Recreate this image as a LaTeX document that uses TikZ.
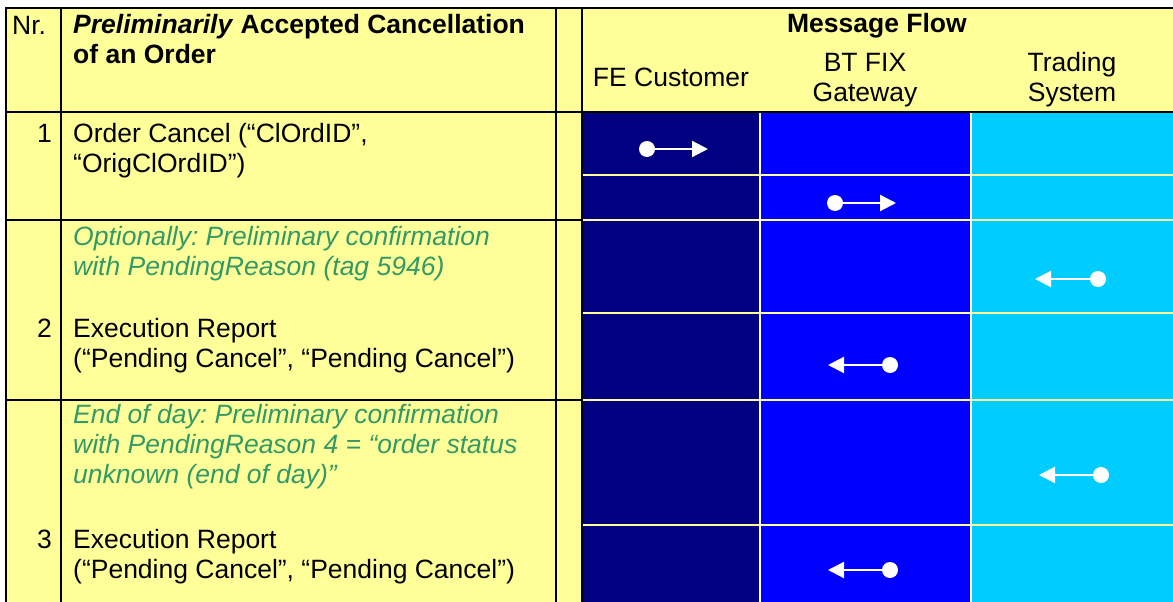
\documentclass[tikz,border=0pt]{standalone}
\usepackage{fontspec}
\setmainfont{Liberation Sans}
\usetikzlibrary{arrows.meta}
\frenchspacing

\definecolor{sheet}{HTML}{FFFF99}
\definecolor{custblue}{HTML}{000080}
\definecolor{gateblue}{HTML}{0000FF}
\definecolor{tradeblue}{HTML}{00CCFF}
\definecolor{notegreen}{HTML}{339966}

\begin{document}
\begin{tikzpicture}
    [ x=1pt, y=-1pt
    , every node/.style={inner sep=0pt, font=\fontsize{26.5}{30}\selectfont}
    , txt/.style={anchor=base west, align=left}
    , nr/.style={anchor=base east}
    , head/.style={anchor=base, align=center}
    , note/.style={txt, text=notegreen, font=\fontsize{26.5}{30}\selectfont\itshape}
    , rule/.style={line width=2.5pt, line cap=rect}
    , gap/.style={line width=2pt, draw=sheet}
    , sender/.style={circle, fill=white, minimum size=16pt}
    , msg/.style={draw=white, line width=2.2pt, -{Triangle[length=16pt, width=16pt]}}
    ]
\useasboundingbox (0,0) rectangle (1173,602);
\fill[white] (0,0) rectangle (1173,602);
\fill[sheet] (6,8) rectangle (1173,602);
\fill[custblue] (582,112) rectangle (760,602);
\fill[gateblue] (760,112) rectangle (971,602);
\fill[tradeblue] (971,112) rectangle (1173,602);
% lines between the flow cells
\foreach \y in {175,220,313,400,525}
    \draw[gap] (582,\y) -- (1173,\y);
\foreach \x in {760,971}
    \draw[gap, draw=white] (\x,112) -- (\x,602);
% black grid
\foreach \x in {6,61,556,582}
    \draw[rule] (\x,8) -- (\x,602);
\draw[rule] (6,8) -- (1173,8);
\draw[rule] (6,112) -- (1173,112);
\draw[rule] (6,220) -- (582,220);
\draw[rule] (6,400) -- (582,400);

% header (multi-line nodes sit on their last line)
\node[txt] (nrhead) at (12,35) {Nr.};
\node[txt] (title) at (73,64)
    {\textbf{\textit{Preliminarily} Accepted Cancellation}\\\textbf{of an Order}};
\node[head] (flow) at (877,33) {\textbf{Message Flow}};
\node[head] (fe) at (671,87) {FE Customer};
\node[head] (gw) at (865,102) {BT FIX\\Gateway};
\node[head] (ts) at (1072,102) {Trading\\System};

% steps
\node[nr] (nr1) at (52,142) {1};
\node[txt] (step1) at (73,172) {Order Cancel (“ClOrdID”,\\“OrigClOrdID”)};
\node[note] (opt2) at (73,275)
    {Optionally: Preliminary confirmation\\with PendingReason (tag 5946)};
\node[nr] (nr2) at (52,337) {2};
\node[txt] (step2) at (73,367) {Execution Report\\(“Pending Cancel”, “Pending Cancel”)};
\node[note] (opt3) at (73,483)
    {End of day: Preliminary confirmation\\with PendingReason 4 = “order status\\unknown (end of day)”};
\node[nr] (nr3) at (52,548) {3};
\node[txt] (step3) at (73,578) {Execution Report\\(“Pending Cancel”, “Pending Cancel”)};

% message arrows
\node[sender] (fe1) at (647,149) {};
\coordinate (gw1) at (708,149);
\draw[msg] (fe1) -- (gw1);
\node[sender] (gw1s) at (835,203) {};
\coordinate (ts1) at (896,203);
\draw[msg] (gw1s) -- (ts1);
\node[sender] (ts2) at (1098,279) {};
\coordinate (gw2) at (1035,279);
\draw[msg] (ts2) -- (gw2);
\node[sender] (gw2s) at (890,365) {};
\coordinate (fe2) at (828,365);
\draw[msg] (gw2s) -- (fe2);
\node[sender] (ts3) at (1101,475) {};
\coordinate (gw3) at (1039,475);
\draw[msg] (ts3) -- (gw3);
\node[sender] (gw3s) at (890,570) {};
\coordinate (fe3) at (828,570);
\draw[msg] (gw3s) -- (fe3);

\end{tikzpicture}
\end{document}
